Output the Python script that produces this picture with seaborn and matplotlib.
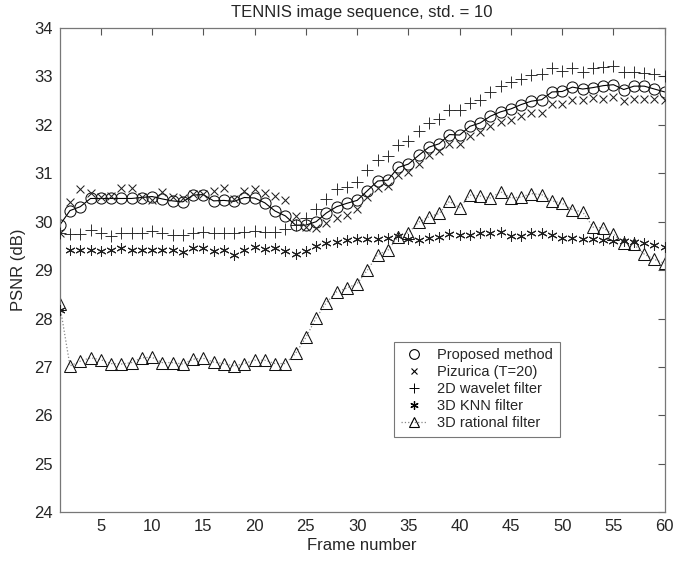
import numpy as np
import pandas as pd
import seaborn as sns
import matplotlib.pyplot as plt
from matplotlib.lines import Line2D

# PSNR values (frames 1..60)
frames = list(range(1, 61))

proposed = [29.93, 30.23, 30.31, 30.48, 30.48, 30.48, 30.48, 30.48, 30.50, 30.52,
            30.47, 30.43, 30.41, 30.55, 30.56, 30.43, 30.44, 30.42, 30.50, 30.49,
            30.39, 30.22, 30.12, 29.93, 29.93, 30.00, 30.18, 30.31, 30.38, 30.44,
            30.64, 30.84, 30.86, 31.12, 31.19, 31.37, 31.54, 31.61, 31.80, 31.79,
            31.97, 32.04, 32.18, 32.27, 32.33, 32.42, 32.49, 32.52, 32.68, 32.69,
            32.78, 32.74, 32.77, 32.81, 32.83, 32.73, 32.80, 32.80, 32.74, 32.68]

pizurica = [29.76, 30.41, 30.67, 30.60, 30.52, 30.53, 30.70, 30.70, 30.52, 30.45,
            30.62, 30.52, 30.50, 30.57, 30.58, 30.64, 30.70, 30.46, 30.64, 30.67,
            30.60, 30.53, 30.45, 30.12, 29.90, 29.88, 29.98, 30.08, 30.14, 30.27,
            30.51, 30.69, 30.74, 30.96, 31.03, 31.20, 31.38, 31.46, 31.61, 31.60,
            31.77, 31.86, 31.98, 32.06, 32.10, 32.18, 32.25, 32.24, 32.44, 32.44,
            32.51, 32.51, 32.55, 32.54, 32.58, 32.50, 32.53, 32.53, 32.53, 32.51]

wavelet2d = [29.76, 29.75, 29.75, 29.83, 29.77, 29.70, 29.76, 29.76, 29.77, 29.80,
             29.76, 29.72, 29.72, 29.77, 29.78, 29.76, 29.76, 29.76, 29.78, 29.81,
             29.78, 29.78, 29.84, 29.93, 30.07, 30.27, 30.46, 30.67, 30.72, 30.82,
             31.07, 31.27, 31.36, 31.58, 31.67, 31.87, 32.03, 32.13, 32.31, 32.31,
             32.46, 32.51, 32.67, 32.81, 32.88, 32.95, 33.04, 33.05, 33.17, 33.12,
             33.18, 33.10, 33.18, 33.19, 33.21, 33.10, 33.10, 33.08, 33.05, 33.00]

knn3d = [28.17, 29.41, 29.41, 29.42, 29.39, 29.41, 29.45, 29.42, 29.42, 29.42,
         29.42, 29.41, 29.38, 29.45, 29.45, 29.40, 29.42, 29.32, 29.41, 29.47,
         29.43, 29.45, 29.39, 29.33, 29.40, 29.50, 29.55, 29.58, 29.62, 29.65,
         29.65, 29.65, 29.66, 29.71, 29.65, 29.63, 29.66, 29.69, 29.74, 29.72,
         29.73, 29.76, 29.76, 29.79, 29.70, 29.70, 29.76, 29.77, 29.72, 29.67,
         29.67, 29.65, 29.65, 29.63, 29.61, 29.61, 29.58, 29.55, 29.52, 29.48]

rational3d = [28.29, 27.02, 27.12, 27.19, 27.15, 27.07, 27.06, 27.09, 27.19, 27.20,
              27.09, 27.09, 27.06, 27.16, 27.18, 27.10, 27.07, 27.02, 27.07, 27.14,
              27.14, 27.07, 27.07, 27.28, 27.61, 28.01, 28.33, 28.55, 28.63, 28.72,
              29.00, 29.32, 29.41, 29.69, 29.77, 29.99, 30.10, 30.17, 30.42, 30.29,
              30.55, 30.53, 30.49, 30.62, 30.49, 30.51, 30.58, 30.56, 30.43, 30.38,
              30.25, 30.20, 29.89, 29.87, 29.74, 29.56, 29.53, 29.33, 29.22, 29.14]

df = pd.DataFrame({'frame': frames, 'proposed': proposed, 'pizurica': pizurica,
                   'wavelet2d': wavelet2d, 'knn3d': knn3d, 'rational3d': rational3d})

sns.set_style('white')
plt.rcParams['font.family'] = ['Liberation Sans', 'DejaVu Sans']

fig = plt.figure(figsize=(6.79, 5.61), dpi=100)
ax = fig.add_axes([0.088, 0.087, 0.891, 0.863])

# dotted line under the triangles, solid line under the circles
sns.lineplot(data=df, x='frame', y='rational3d', ax=ax, color='#888888',
             linestyle=':', linewidth=0.9, marker='^', markersize=9,
             markerfacecolor='none', markeredgecolor='#111111', markeredgewidth=0.75)
sns.scatterplot(data=df, x='frame', y='knn3d', ax=ax, marker=(6, 2, 0), s=45,
                color='#222222', linewidth=0.75, zorder=3)
sns.scatterplot(data=df, x='frame', y='wavelet2d', ax=ax, marker='+', s=75,
                color='#222222', linewidth=0.65, zorder=3)
sns.scatterplot(data=df, x='frame', y='pizurica', ax=ax, marker='x', s=32,
                color='#222222', linewidth=0.75, zorder=3)
sns.lineplot(data=df, x='frame', y='proposed', ax=ax, color='black',
             linewidth=0.8, marker='o', markersize=8,
             markerfacecolor='none', markeredgecolor='#111111', markeredgewidth=0.75)

ax.set_xlim(1, 60)
ax.set_ylim(24, 34)
ax.set_xticks(range(5, 61, 5))
ax.set_yticks(range(24, 35))
ax.tick_params(direction='in', length=5, width=0.8, color='#555555',
               top=True, right=True, labelsize=12, pad=5)
for s in ax.spines.values():
    s.set_color('#777777')
    s.set_linewidth(0.9)

ax.set_xlabel('Frame number', fontsize=12, labelpad=3)
ax.set_ylabel('PSNR (dB)', fontsize=12, labelpad=6)
ax.set_title('TENNIS image sequence, std. = 10', fontsize=12, pad=8)

handles = [
    Line2D([], [], linestyle='none', marker='o', markersize=7, markerfacecolor='none',
           markeredgecolor='black', markeredgewidth=0.8),
    Line2D([], [], linestyle='none', marker='x', markersize=5, color='black', markeredgewidth=0.8),
    Line2D([], [], linestyle='none', marker='+', markersize=7, color='black', markeredgewidth=0.7),
    Line2D([], [], linestyle='none', marker=(6, 2, 0), markersize=6, color='black', markeredgewidth=0.9),
    Line2D([], [], linestyle=':', color='#888888', linewidth=0.9, marker='^', markersize=7,
           markerfacecolor='none', markeredgecolor='black', markeredgewidth=0.8),
]
labels = ['Proposed method', 'Pizurica (T=20)', '2D wavelet filter', '3D KNN filter', '3D rational filter']
leg = ax.legend(handles, labels, loc='upper left', bbox_to_anchor=(0.553, 0.352),
                borderaxespad=0, fontsize=10.5, frameon=True, fancybox=False,
                handlelength=1.8, handletextpad=0.7, borderpad=0.45, labelspacing=0.2)
leg.get_frame().set_edgecolor('#555555')
leg.get_frame().set_linewidth(0.8)

fig.savefig('out.png', dpi=100)
